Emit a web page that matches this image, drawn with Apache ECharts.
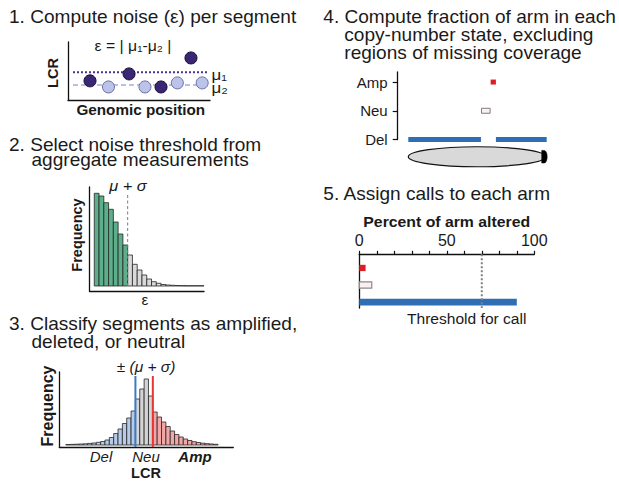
<!DOCTYPE html>
<html>
<head>
<meta charset="utf-8">
<title>Arm-level copy-number calling</title>
<script src="https://cdn.jsdelivr.net/npm/echarts@6/dist/echarts.min.js"></script>
<style>
  html, body { margin: 0; padding: 0; background: #fff; }
  #chart { width: 619px; height: 484px; }
</style>
</head>
<body>
<div id="chart"></div>
<script>
// 1. segment LCR along the genome (dark = raw segments, light = second set)
var segPosDark = [1.55, 4.3, 6.55, 8.66];
var segLcrDark = [3.3, 4.5, 2.25, 7.25];
var segPosLight = [2.85, 5.42, 7.7, 9.45];
var segLcrLight = [2.25, 2.25, 2.95, 2.95];
var mu1 = 4.8;
var mu2 = 2.6;
var muSpan = [0.35, 9.85];

// 2. aggregate noise histogram (bin i spans [noiseFirstBin + i, +1])
var noiseFreq = [92.7, 90, 83.3, 76.7, 64, 52, 41, 31, 21.7, 16, 11, 7, 4.3, 2.7, 1.5, 1, 0.7, 0.5, 0.4, 0.3, 0.3, 0.3, 0.3];
var noiseFirstBin = 1;
var noiseThreshold = 8;

// 3. LCR histogram, bins of 0.2 starting at lcrFirstEdge
var lcrFreq = [0.5, 0.6, 0.8, 1.0, 1.2, 1.6, 2.0, 2.7, 3.5, 5, 7.5, 11.5, 16, 21.5, 27, 34, 46, 56,
               66, 49, 33, 28, 23, 18.5, 14, 10.5, 8, 6, 4.5, 3.3, 2.5, 1.8, 1.3, 1.0, 0.7];
var lcrFirstEdge = -3.7;
var lcrBinWidth = 0.2;
var delCut = -0.5;
var ampCut = 0.3;

// 4. segments along the arm (% of arm length)
var states = ['Del', 'Neu', 'Amp'];
var segStart = [0, 52.5, 59.5, 63.3];
var segEnd = [52.5, 59.5, 63.3, 100];
var segState = ['Del', 'Neu', 'Amp', 'Del'];
var chromArm = [0, 100];
var chromLevel = 0.4;

// 5. percent of arm altered per state
var callStates = ['Amp', 'Neu', 'Del'];
var pctAltered = [3.6, 7.4, 90];
var callThreshold = 70;
var pctTicks = [0, 50, 100];

var INK = '#1a1a1a';
var FONT = '"Liberation Sans", Arial, Helvetica, sans-serif';
var STRETCH = 1.09;
var stateColor = { Del: '#2f6db5', Neu: '#fbefef', Amp: '#dc1f26' };

var chart = echarts.init(document.getElementById('chart'), null, { renderer: 'svg' });

function txt(text, x, y, o) {
  o = o || {};
  var align = o.align || 'left';
  return {
    type: 'text', x: x, y: y, z: 10,
    rotation: o.rot || 0,
    scaleX: o.sx == null ? STRETCH : o.sx,
    style: {
      text: text, fill: INK,
      fontFamily: FONT, fontSize: o.size || 17.5,
      fontWeight: o.weight || 'normal', fontStyle: o.style || 'normal',
      textAlign: align, textVerticalAlign: 'middle',
      align: align, verticalAlign: 'middle'
    }
  };
}

var axisInk = { show: true, onZero: false, lineStyle: { color: '#111', width: 1.3 } };

function bareAxis(grid, o) {
  return Object.assign({
    type: 'value', gridIndex: grid,
    axisLine: { show: false, onZero: false },
    axisTick: { show: false },
    axisLabel: { show: false },
    splitLine: { show: false }
  }, o);
}

// rect from [x0, x1, height] through the axis scales
function histRender(colorOf) {
  return function (params, api) {
    var x0 = api.value(0), x1 = api.value(1);
    var base = api.coord([x0, 0]);
    var top = api.coord([x1, api.value(2)]);
    return {
      type: 'rect',
      shape: { x: base[0], y: top[1], width: top[0] - base[0], height: base[1] - top[1] },
      style: { fill: colorOf(x0, x1), stroke: '#262626', lineWidth: 0.8 }
    };
  };
}

var noiseData = noiseFreq.map(function (f, i) {
  return [noiseFirstBin + i, noiseFirstBin + i + 1, f];
});
var lcrData = lcrFreq.map(function (f, i) {
  var a = lcrFirstEdge + i * lcrBinWidth;
  return [a, a + lcrBinWidth, f];
});
var armData = segStart.map(function (s, i) {
  return [s, segEnd[i], states.indexOf(segState[i]) + 1];
});
var callData = pctAltered.map(function (p, i) {
  return [p, i + 1];
});

var option = {
  animation: false,
  backgroundColor: '#fff',
  grid: [
    { left: 68, top: 42, width: 142, height: 58 },
    { left: 89.5, top: 187, width: 114.5, height: 104 },
    { left: 59.3, top: 372, width: 174, height: 75 },
    { left: 408.3, top: 72, width: 138.4, height: 67.5 },
    { left: 359.3, top: 254.3, width: 175, height: 53.8 }
  ],
  xAxis: [
    bareAxis(0, { min: 0, max: 10, axisLine: axisInk }),
    bareAxis(1, { min: 0, max: 24, axisLine: axisInk }),
    bareAxis(2, { min: -4, max: 4, axisLine: axisInk }),
    bareAxis(3, { min: 0, max: 100 }),
    bareAxis(4, {
      min: 0, max: 100, interval: 10, position: 'top',
      axisLine: axisInk,
      axisTick: { show: true, length: 3.5, lineStyle: { color: '#111', width: 1.2 } },
      axisLabel: {
        show: true, customValues: pctTicks, margin: 6,
        fontSize: 16, fontFamily: FONT, color: INK,
        formatter: function (v) { return pctTicks.indexOf(v) >= 0 ? String(v) : ''; }
      }
    })
  ],
  yAxis: [
    bareAxis(0, { min: 0, max: 10, axisLine: axisInk }),
    bareAxis(1, { min: -5, max: 99, axisLine: axisInk }),
    bareAxis(2, { min: -2, max: 73, axisLine: axisInk }),
    bareAxis(3, {
      min: 1, max: 3.35, interval: 1, offset: 10.6,
      axisLine: axisInk,
      axisTick: { show: true, customValues: [1, 2, 3], length: 5, lineStyle: { color: '#111', width: 1.2 } },
      axisLabel: {
        show: true, customValues: [1, 2, 3], margin: 10,
        fontSize: 15, fontFamily: FONT, color: INK,
        formatter: function (v) { return states[v - 1] || ''; }
      }
    }),
    bareAxis(4, { min: 0.2, max: 3.35, inverse: true, axisLine: axisInk })
  ],
  series: [
    // panel 1
    {
      type: 'line', xAxisIndex: 0, yAxisIndex: 0, symbol: 'none', silent: true, z: 1,
      data: muSpan.map(function (x) { return [x, mu1]; }),
      lineStyle: { color: '#46358a', width: 2, type: [2, 2] }
    },
    {
      type: 'line', xAxisIndex: 0, yAxisIndex: 0, symbol: 'none', silent: true, z: 1,
      data: muSpan.map(function (x) { return [x, mu2]; }),
      lineStyle: { color: '#a3acdc', width: 1.5, type: [5, 3] }
    },
    {
      type: 'scatter', xAxisIndex: 0, yAxisIndex: 0, symbolSize: 12, z: 3,
      data: segPosLight.map(function (x, i) { return [x, segLcrLight[i]]; }),
      itemStyle: { color: '#bcc3e8', borderColor: '#6a70a6', borderWidth: 1, opacity: 1 }
    },
    {
      type: 'scatter', xAxisIndex: 0, yAxisIndex: 0, symbolSize: 12, z: 3,
      data: segPosDark.map(function (x, i) { return [x, segLcrDark[i]]; }),
      itemStyle: { color: '#3b2676', borderColor: '#140b30', borderWidth: 1, opacity: 1 }
    },
    // panel 2
    {
      type: 'custom', xAxisIndex: 1, yAxisIndex: 1, data: noiseData,
      encode: { x: [0, 1], y: 2 },
      renderItem: histRender(function (x0, x1) {
        return x1 <= noiseThreshold ? '#5dae8b' : '#d9d9d9';
      })
    },
    {
      type: 'line', xAxisIndex: 1, yAxisIndex: 1, symbol: 'none', silent: true, z: 5,
      data: [[noiseThreshold, 0], [noiseThreshold, 93]],
      lineStyle: { color: '#6d8193', width: 1, type: [3, 2.5] }
    },
    // panel 3
    {
      type: 'custom', xAxisIndex: 2, yAxisIndex: 2, data: lcrData,
      encode: { x: [0, 1], y: 2 },
      renderItem: histRender(function (x0, x1) {
        var c = (x0 + x1) / 2;
        if (c < delCut) return '#b5cbe7';
        if (c > ampCut) return '#f2a6a5';
        return '#d4d4d4';
      })
    },
    {
      type: 'line', xAxisIndex: 2, yAxisIndex: 2, symbol: 'none', silent: true, z: 5,
      data: [[delCut, -2], [delCut, 69]],
      lineStyle: { color: '#3b7bc6', width: 2 }
    },
    {
      type: 'line', xAxisIndex: 2, yAxisIndex: 2, symbol: 'none', silent: true, z: 5,
      data: [[ampCut, -2], [ampCut, 69]],
      lineStyle: { color: '#ea3535', width: 2 }
    },
    // panel 4
    {
      type: 'custom', xAxisIndex: 3, yAxisIndex: 3, data: armData,
      encode: { x: [0, 1], y: 2 },
      renderItem: function (params, api) {
        var lvl = api.value(2);
        var st = segState[params.dataIndex];
        var a = api.coord([api.value(0), lvl]);
        var b = api.coord([api.value(1), lvl]);
        var h = 5;
        var neu = st === 'Neu';
        return {
          type: 'rect',
          shape: { x: a[0] + (neu ? 0.5 : 0), y: a[1] - h / 2, width: b[0] - a[0] - (neu ? 1 : 0), height: h },
          style: { fill: stateColor[st], stroke: neu ? '#7d7d7d' : null, lineWidth: neu ? 1 : 0 }
        };
      }
    },
    {
      type: 'custom', xAxisIndex: 3, yAxisIndex: 3,
      data: [[chromArm[0], chromArm[1], chromLevel]],
      encode: { x: [0, 1], y: 2 },
      renderItem: function (params, api) {
        var a = api.coord([api.value(0), api.value(2)]);
        var b = api.coord([api.value(1), api.value(2)]);
        var x0 = a[0], x1 = b[0] - 1, cy = a[1], ry = 10, rx = (x1 - x0) / 2;
        var ell = 'M' + x0 + ' ' + cy + ' A' + rx + ' ' + ry + ' 0 1 0 ' + x1 + ' ' + cy +
                  ' A' + rx + ' ' + ry + ' 0 1 0 ' + x0 + ' ' + cy + ' Z';
        var xa = b[0] - 5, xb = b[0] - 2.5, ch = 6.3;
        var cap = 'M' + xa + ' ' + (cy - ch) + ' L' + xb + ' ' + (cy - ch) +
                  ' A3 ' + ch + ' 0 0 1 ' + xb + ' ' + (cy + ch) + ' L' + xa + ' ' + (cy + ch) + ' Z';
        return {
          type: 'group',
          children: [
            { type: 'path', shape: { pathData: ell }, style: { fill: '#d9d9d9', stroke: '#111', lineWidth: 1.2 } },
            { type: 'path', shape: { pathData: cap }, style: { fill: '#000', stroke: '#000', lineWidth: 0.5 } }
          ]
        };
      }
    },
    // panel 5
    {
      type: 'custom', xAxisIndex: 4, yAxisIndex: 4, data: callData,
      encode: { x: 0, y: 1 },
      renderItem: function (params, api) {
        var row = api.value(1);
        var st = callStates[params.dataIndex];
        var a = api.coord([0, row]);
        var b = api.coord([api.value(0), row]);
        var h = st === 'Del' ? 6.7 : 6.3;
        var neu = st === 'Neu';
        return {
          type: 'rect',
          shape: { x: a[0], y: a[1] - h / 2, width: b[0] - a[0] - (neu ? 0.5 : 0), height: h },
          style: { fill: stateColor[st], stroke: neu ? '#8a8a8a' : null, lineWidth: neu ? 1.2 : 0 }
        };
      }
    },
    {
      type: 'line', xAxisIndex: 4, yAxisIndex: 4, symbol: 'none', silent: true, z: 5,
      data: [[callThreshold, 0.2], [callThreshold, 3.35]],
      lineStyle: { color: '#7f7f7f', width: 2, type: [2, 2] }
    }
  ],
  graphic: [
    txt('1. Compute noise (\u03b5) per segment', 9, 16.3),
    txt('2. Select noise threshold from', 9, 144.5),
    txt('aggregate measurements', 31.5, 159.8),
    txt('3. Classify segments as amplified,', 9, 323.8),
    txt('deleted, or neutral', 31.5, 341.3),
    txt('4. Compute fraction of arm in each', 323.3, 16.5),
    txt('copy-number state, excluding', 344.3, 34.5),
    txt('regions of missing coverage', 344.3, 52.8),
    txt('5. Assign calls to each arm', 323.3, 193.8),

    txt('\u03b5 = | \u03bc\u2081-\u03bc\u2082 |', 133, 46, { size: 14.5, align: 'center' }),
    txt('\u03bc\u2081', 211.5, 74, { size: 15.5 }),
    txt('\u03bc\u2082', 211.5, 87, { size: 15.5 }),
    txt('LCR', 53, 73, { size: 14.5, weight: 'bold', rot: Math.PI / 2, sx: 1, align: 'center' }),
    txt('Genomic position', 140.8, 110.5, { size: 14, weight: 'bold', align: 'center' }),

    txt('\u03bc + \u03c3', 128, 186, { size: 15, style: 'italic', align: 'center' }),
    txt('Frequency', 77, 235, { size: 14.5, weight: 'bold', rot: Math.PI / 2, sx: 1, align: 'center' }),
    txt('\u03b5', 145, 300, { size: 14, align: 'center' }),

    txt('\u00b1 (\u03bc + \u03c3)', 146, 366, { size: 15.5, style: 'italic', align: 'center', sx: 1 }),
    txt('Frequency', 47, 406, { size: 16, weight: 'bold', rot: Math.PI / 2, sx: 1, align: 'center' }),
    txt('Del', 101, 456.5, { size: 15, style: 'italic', align: 'center', sx: 1 }),
    txt('Neu', 146, 456.5, { size: 15, style: 'italic', align: 'center', sx: 1 }),
    txt('Amp', 195, 456.5, { size: 15, style: 'italic', weight: 'bold', align: 'center', sx: 1 }),
    txt('LCR', 146, 472.5, { size: 14.5, weight: 'bold', align: 'center', sx: 1 }),

    txt('Percent of arm altered', 446.7, 221.3, { size: 14.5, weight: 'bold', align: 'center' }),
    txt('Threshold for call', 466.7, 319, { size: 14.3, align: 'center' })
  ]
};

chart.setOption(option);
</script>
</body>
</html>
